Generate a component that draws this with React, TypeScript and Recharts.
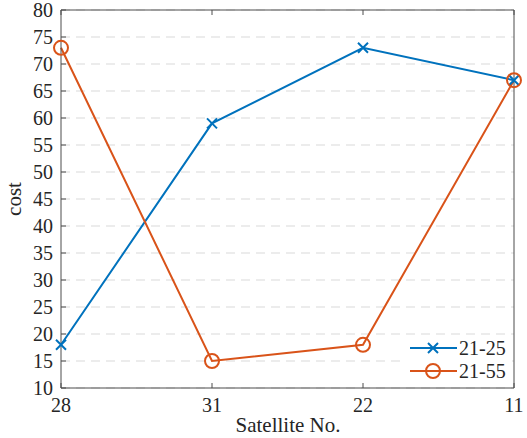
import { LineChart, Line, XAxis, YAxis, CartesianGrid } from 'recharts';

const satellites = ['28', '31', '22', '11'];
const cost2125 = [18, 59, 73, 67];
const cost2155 = [73, 15, 18, 67];
const yTicks = [10, 15, 20, 25, 30, 35, 40, 45, 50, 55, 60, 65, 70, 75, 80];
const seriesNames = ['21-25', '21-55'];

const BLUE = '#0072BD';
const ORANGE = '#D95319';
const AXIS = '#4d4d4d';
const TEXT = '#262626';
const FONT = 'Liberation Serif, Times New Roman, serif';

const data = satellites.map((s, i) => ({ sat: s, a: cost2125[i], b: cost2155[i] }));

const CrossDot = (props: any) => {
    const { cx, cy } = props;
    if (cx == null || cy == null) return null;
    const r = 5;
    return (
        <path
            d={`M${cx - r},${cy - r}L${cx + r},${cy + r}M${cx - r},${cy + r}L${cx + r},${cy - r}`}
            stroke={BLUE}
            strokeWidth={2}
            fill="none"
        />
    );
};

const CircleDot = (props: any) => {
    const { cx, cy } = props;
    if (cx == null || cy == null) return null;
    return <circle cx={cx} cy={cy} r={7} stroke={ORANGE} strokeWidth={2} fill="none" />;
};

const LeftTick = (props: any) => {
    const { x, y, payload } = props;
    return (
        <g>
            <line x1={x + 8} x2={x + 13} y1={y} y2={y} stroke={AXIS} />
            <text x={x} y={y} dy={7} textAnchor="end" fill={TEXT} fontSize={20} style={{ fontFamily: FONT }}>
                {payload.value}
            </text>
        </g>
    );
};

const RightTick = (props: any) => {
    const { x, y } = props;
    return <line x1={x - 5} x2={x} y1={y} y2={y} stroke={AXIS} />;
};

const BottomTick = (props: any) => {
    const { x, y, payload } = props;
    return (
        <g>
            <line x1={x} x2={x} y1={y - 10} y2={y - 15} stroke={AXIS} />
            <text x={x} y={y} dy={14} textAnchor="middle" fill={TEXT} fontSize={20} style={{ fontFamily: FONT }}>
                {payload.value}
            </text>
        </g>
    );
};

const TopTick = (props: any) => {
    const { x, y } = props;
    return <line x1={x} x2={x} y1={y} y2={y + 5} stroke={AXIS} />;
};

const LegendBox = () => (
    <div style={{ position: 'absolute', left: 402, top: 336, background: '#fff', width: 110, height: 50 }}>
        <svg width={110} height={50}>
            <line x1={8} x2={55} y1={12} y2={12} stroke={BLUE} strokeWidth={2} />
            <CrossDot cx={31} cy={12} />
            <text x={57} y={19} fill={TEXT} fontSize={20} style={{ fontFamily: FONT }}>{seriesNames[0]}</text>
            <line x1={8} x2={55} y1={35} y2={35} stroke={ORANGE} strokeWidth={2} />
            <CircleDot cx={31} cy={35} />
            <text x={57} y={42} fill={TEXT} fontSize={20} style={{ fontFamily: FONT }}>{seriesNames[1]}</text>
        </svg>
    </div>
);

export default function App() {
    return (
        <div style={{ position: 'absolute', left: 0, top: 0, width: 527, height: 438, background: '#fff' }}>
            <LineChart width={527} height={438} data={data} margin={{ top: 0, right: 0, left: 0, bottom: 0 }}>
                <CartesianGrid vertical={false} stroke="#d9d9d9" strokeDasharray="9 6" yAxisId="l" />
                <XAxis
                    dataKey="sat"
                    scale="point"
                    height={50}
                    tickSize={0}
                    tickMargin={10}
                    stroke={AXIS}
                    tick={<BottomTick />}
                    label={{
                        content: () => (
                            <text x={288} y={432} textAnchor="middle" fill={TEXT} fontSize={21} style={{ fontFamily: FONT }}>
                                Satellite No.
                            </text>
                        ),
                    }}
                />
                <XAxis
                    xAxisId="top"
                    dataKey="sat"
                    scale="point"
                    orientation="top"
                    height={10}
                    tickSize={0}
                    tickMargin={0}
                    stroke={AXIS}
                    tick={<TopTick />}
                />
                <YAxis
                    yAxisId="l"
                    domain={[10, 80]}
                    ticks={yTicks}
                    width={61}
                    tickSize={0}
                    tickMargin={8}
                    stroke={AXIS}
                    interval={0}
                    tick={<LeftTick />}
                    label={{
                        content: () => (
                            <text
                                x={21}
                                y={199}
                                transform="rotate(-90 21 199)"
                                textAnchor="middle"
                                fill={TEXT}
                                fontSize={21}
                                style={{ fontFamily: FONT }}
                            >
                                cost
                            </text>
                        ),
                    }}
                />
                <YAxis
                    yAxisId="r"
                    orientation="right"
                    domain={[10, 80]}
                    ticks={yTicks}
                    width={13}
                    tickSize={0}
                    tickMargin={0}
                    stroke={AXIS}
                    interval={0}
                    tick={<RightTick />}
                />
                <Line
                    yAxisId="l"
                    dataKey="a"
                    name={seriesNames[0]}
                    stroke={BLUE}
                    strokeWidth={2}
                    dot={<CrossDot />}
                    activeDot={false}
                    isAnimationActive={false}
                />
                <Line
                    yAxisId="l"
                    dataKey="b"
                    name={seriesNames[1]}
                    stroke={ORANGE}
                    strokeWidth={2}
                    dot={<CircleDot />}
                    activeDot={false}
                    isAnimationActive={false}
                />
            </LineChart>
            <LegendBox />
        </div>
    );
}
